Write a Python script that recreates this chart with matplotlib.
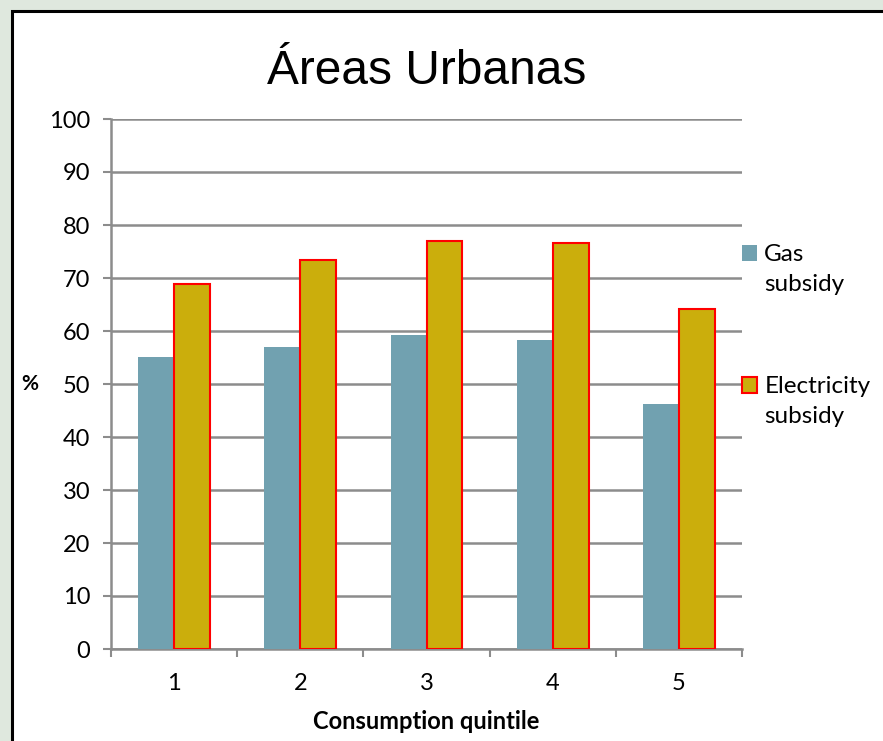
import numpy as np
import matplotlib.pyplot as plt
from matplotlib.patches import Rectangle
from matplotlib.container import BarContainer
from matplotlib.legend_handler import HandlerPatch, update_from_first_child

# data
quintiles = ['1', '2', '3', '4', '5']
gas = [55.1, 57.0, 59.2, 58.3, 46.3]
electricity = [68.9, 73.4, 77.0, 76.6, 64.2]

gas_color = '#71a1b0'
elec_color = '#cbae0c'
grid_color = '#8c8c8c'

plt.rcParams['font.family'] = ['Lato', 'DejaVu Sans']

fig = plt.figure(figsize=(8.83, 7.41), dpi=100)
fig.patch.set_facecolor('#dfe8de')

# white chart area with black frame
fig.patches.append(Rectangle((12 / 883, -0.05), 1.0, 1 - 11 / 741 + 0.05,
                             transform=fig.transFigure, facecolor='white',
                             edgecolor='black', linewidth=2.2, zorder=-10))

ax = fig.add_axes([111 / 883, 1 - 649 / 741, (742 - 111) / 883, (649 - 119) / 741])
ax.set_facecolor('none')

x = np.arange(len(quintiles))
w = 0.285
ax.bar(x - w / 2, gas, w, color=gas_color, label='Gas\nsubsidy', zorder=3)
ax.bar(x + w / 2, electricity, w, color=elec_color, edgecolor='#ff0000',
       linewidth=1.5, label='Electricity\nsubsidy', zorder=3)

ax.set_xlim(-0.5, 4.5)
ax.set_ylim(0, 100)
ax.set_yticks(range(0, 101, 10))
ax.set_xticks(x)
ax.set_xticklabels(quintiles)
ax.set_xticks(np.arange(-0.5, 5, 1), minor=True)
ax.tick_params(axis='x', which='major', length=0, pad=17, labelsize=17)
ax.tick_params(axis='x', which='minor', length=6, width=1.5, color=grid_color, direction='out')
ax.tick_params(axis='y', length=6, width=1.5, color=grid_color, pad=9, labelsize=17)

ax.yaxis.grid(True, color=grid_color, linewidth=1.8, zorder=0)
ax.set_axisbelow(True)
for s in ['top', 'right']:
    ax.spines[s].set_visible(False)
for s in ['left', 'bottom']:
    ax.spines[s].set_color(grid_color)
    ax.spines[s].set_linewidth(1.8)

ax.set_title('Áreas Urbanas', fontsize=34.5, family=['Liberation Sans', 'DejaVu Sans'], pad=25)
ax.set_ylabel('%', rotation=0, fontsize=15, fontweight='bold', labelpad=14, va='center')
ax.set_xlabel('Consumption quintile', fontsize=17, fontweight='bold', labelpad=12)

# legend marker sits next to the first line of the two-line label
leg_fs = 17.5
line_sp = 1.58


def top_square(legend, orig_handle, xdescent, ydescent, width, height, fontsize):
    shift = 0.5 * fontsize * line_sp * 0.85
    return Rectangle((-xdescent, -ydescent + shift), width, height)


leg = ax.legend(loc='upper left', bbox_to_anchor=(1.0, 0.765), frameon=False,
                fontsize=leg_fs, handlelength=0.62, handleheight=0.62,
                handletextpad=0.3, labelspacing=3.3, borderpad=0, borderaxespad=0,
                handler_map={BarContainer: HandlerPatch(patch_func=top_square,
                                                        update_func=update_from_first_child)})
for t in leg.get_texts():
    t.set_linespacing(line_sp)

fig.savefig('out.png', dpi=100, facecolor=fig.get_facecolor())
